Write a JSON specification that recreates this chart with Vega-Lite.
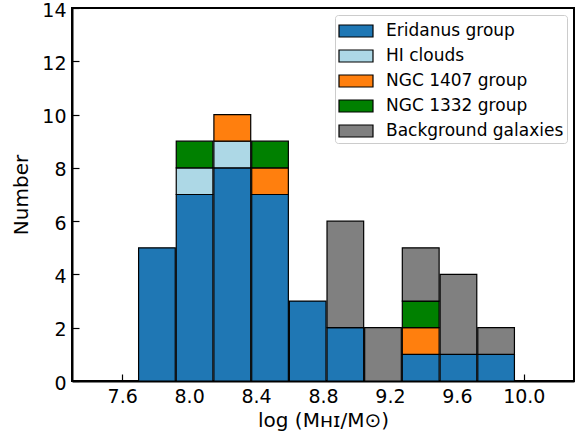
{
  "$schema": "https://vega.github.io/schema/vega-lite/v6.json",
  "autosize": "none",
  "padding": {"left": 72, "top": 8, "right": 6, "bottom": 59},
  "width": 502,
  "height": 373,
  "config": {
    "font": "DejaVu Sans",
    "view": {"stroke": "black", "strokeWidth": 2},
    "axis": {"grid": false, "domainColor": "black", "domainWidth": 2, "tickColor": "black", "tickWidth": 1.2, "labelColor": "black", "titleColor": "black", "labelFont": "DejaVu Sans", "titleFont": "DejaVu Sans", "labelFontSize": 19, "titleFontSize": 20, "titleFontWeight": "normal"}
  },
  "data": {
    "values": [
      {"lo": 7.692, "hi": 7.917, "grp": "Eridanus group", "n": 5, "k": 1},
      {"lo": 7.917, "hi": 8.142, "grp": "Eridanus group", "n": 7, "k": 1},
      {"lo": 8.142, "hi": 8.368, "grp": "Eridanus group", "n": 8, "k": 1},
      {"lo": 8.368, "hi": 8.593, "grp": "Eridanus group", "n": 7, "k": 1},
      {"lo": 8.593, "hi": 8.818, "grp": "Eridanus group", "n": 3, "k": 1},
      {"lo": 8.818, "hi": 9.043, "grp": "Eridanus group", "n": 2, "k": 1},
      {"lo": 9.268, "hi": 9.494, "grp": "Eridanus group", "n": 1, "k": 1},
      {"lo": 9.494, "hi": 9.719, "grp": "Eridanus group", "n": 1, "k": 1},
      {"lo": 9.719, "hi": 9.944, "grp": "Eridanus group", "n": 1, "k": 1},
      {"lo": 7.917, "hi": 8.142, "grp": "HI clouds", "n": 1, "k": 2},
      {"lo": 8.142, "hi": 8.368, "grp": "HI clouds", "n": 1, "k": 2},
      {"lo": 8.142, "hi": 8.368, "grp": "NGC 1407 group", "n": 1, "k": 3},
      {"lo": 8.368, "hi": 8.593, "grp": "NGC 1407 group", "n": 1, "k": 3},
      {"lo": 9.268, "hi": 9.494, "grp": "NGC 1407 group", "n": 1, "k": 3},
      {"lo": 7.917, "hi": 8.142, "grp": "NGC 1332 group", "n": 1, "k": 4},
      {"lo": 8.368, "hi": 8.593, "grp": "NGC 1332 group", "n": 1, "k": 4},
      {"lo": 9.268, "hi": 9.494, "grp": "NGC 1332 group", "n": 1, "k": 4},
      {"lo": 8.818, "hi": 9.043, "grp": "Background galaxies", "n": 4, "k": 5},
      {"lo": 9.043, "hi": 9.268, "grp": "Background galaxies", "n": 2, "k": 5},
      {"lo": 9.268, "hi": 9.494, "grp": "Background galaxies", "n": 2, "k": 5},
      {"lo": 9.494, "hi": 9.719, "grp": "Background galaxies", "n": 3, "k": 5},
      {"lo": 9.719, "hi": 9.944, "grp": "Background galaxies", "n": 1, "k": 5}
    ]
  },
  "mark": {"type": "bar", "stroke": "black", "strokeWidth": 1.2, "opacity": 1},
  "encoding": {
    "x": {
      "field": "lo", "type": "quantitative", "bin": "binned",
      "scale": {"domain": [7.3, 10.3], "nice": false, "zero": false},
      "axis": {"values": [7.6, 8.0, 8.4, 8.8, 9.2, 9.6, 10.0], "format": ".1f", "tickSize": -7, "labelPadding": 13, "title": "log (Mʜɪ/M⊙)", "titlePadding": 4}
    },
    "x2": {"field": "hi"},
    "y": {
      "field": "n", "type": "quantitative", "stack": "zero",
      "scale": {"domain": [0, 14], "nice": false},
      "axis": {"values": [0, 2, 4, 6, 8, 10, 12, 14], "tickSize": -7, "labelPadding": 13, "labelOffset": 2, "title": "Number", "titlePadding": 10}
    },
    "color": {
      "field": "grp", "type": "nominal",
      "scale": {"domain": ["Eridanus group", "HI clouds", "NGC 1407 group", "NGC 1332 group", "Background galaxies"], "range": ["#1f77b4", "#add8e6", "#ff7f0e", "#008000", "#808080"]},
      "legend": {
        "title": null, "orient": "top-right", "offset": 7,
        "symbolType": "M-1,-0.5H1.833V0.5H-1Z", "symbolSize": 576,
        "symbolStrokeColor": "black", "symbolStrokeWidth": 1.2, "symbolOpacity": 1,
        "labelFont": "DejaVu Sans", "labelFontSize": 17, "labelColor": "black", "labelOffset": 22, "labelLimit": 400,
        "rowPadding": 3, "padding": 3,
        "strokeColor": "#cccccc", "fillColor": "white", "cornerRadius": 3
      }
    },
    "order": {"field": "k", "type": "quantitative"}
  }
}
